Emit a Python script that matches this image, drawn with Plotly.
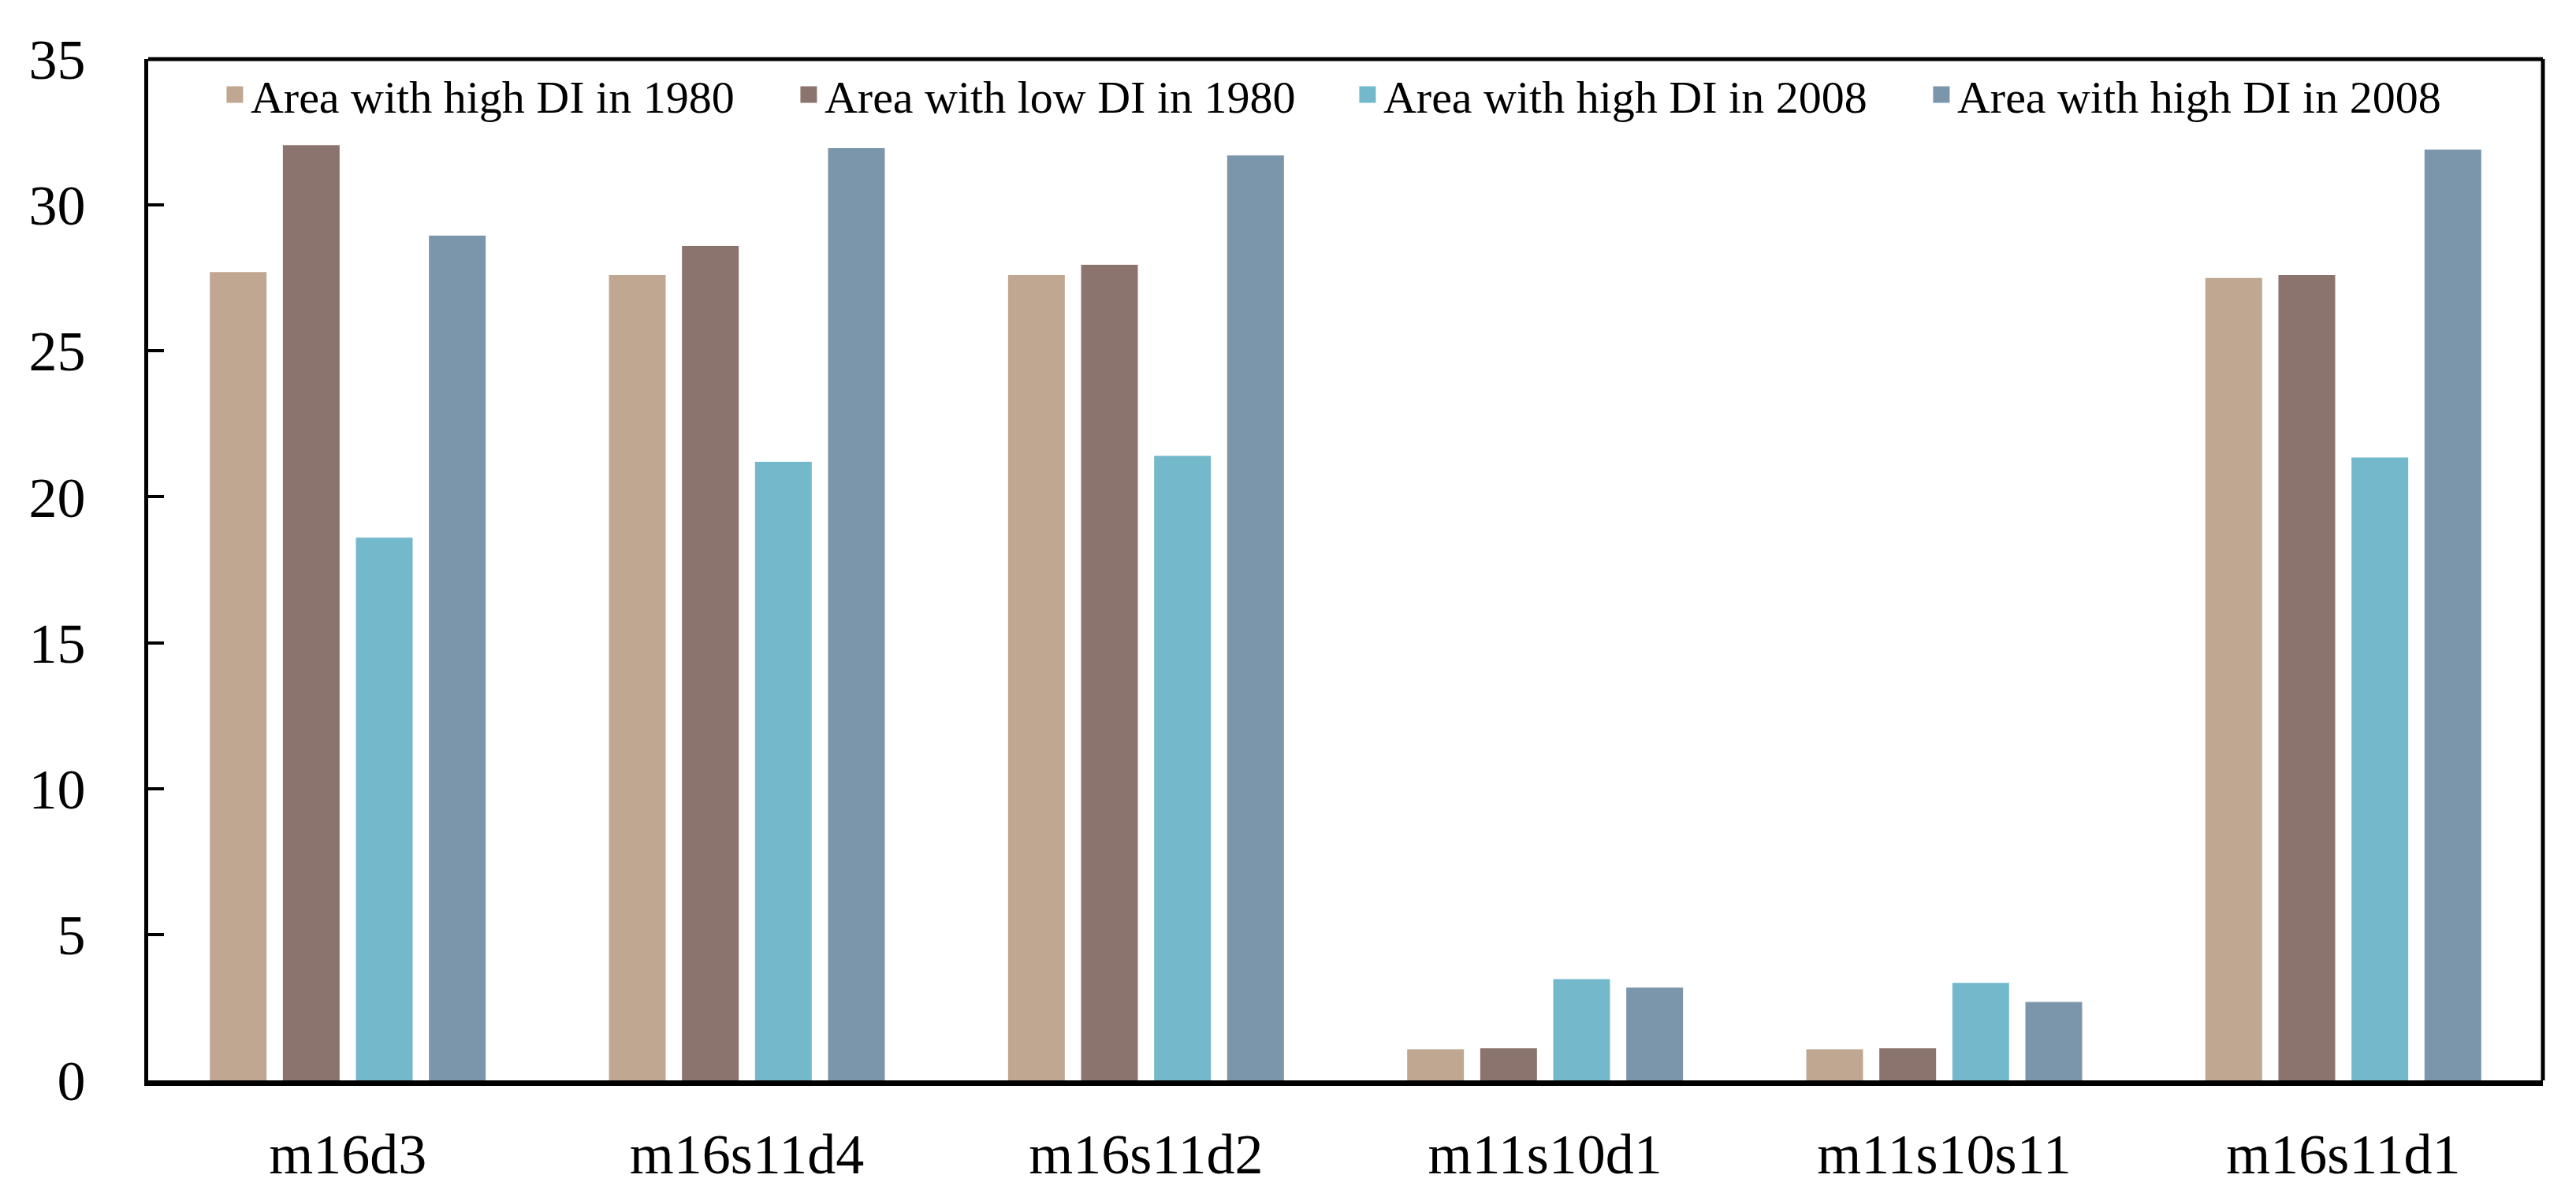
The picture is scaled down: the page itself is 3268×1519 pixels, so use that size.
import plotly.graph_objects as go

categories = ["m16d3", "m16s11d4", "m16s11d2", "m11s10d1", "m11s10s11", "m16s11d1"]
series_names = ["Area with high DI in 1980", "Area with low DI in 1980",
                "Area with high DI in 2008", "Area with high DI in 2008"]
high_1980 = [27.7, 27.6, 27.6, 1.07, 1.07, 27.5]
low_1980 = [32.05, 28.6, 27.95, 1.1, 1.1, 27.6]
high_2008_a = [18.6, 21.2, 21.4, 3.47, 3.34, 21.35]
high_2008_b = [28.95, 31.95, 31.7, 3.18, 2.69, 31.9]
y_ticks = [0, 5, 10, 15, 20, 25, 30, 35]

colors = ["#C0A792", "#8B746E", "#74B9CB", "#7B96AB"]
legend_widths = [683, 664, 683, 683]
series = [high_1980, low_1980, high_2008_a, high_2008_b]

FONT = "Liberation Serif"
fig = go.Figure()
for name, vals, col in zip(series_names, series, colors):
    fig.add_trace(go.Bar(x=categories, y=vals, name=name, marker=dict(color=col, line=dict(width=0)),
                         showlegend=False))
# legend entries (square swatches)
for name, col, lw in zip(series_names, colors, legend_widths):
    fig.add_trace(go.Scatter(x=[None], y=[None], mode="markers", name=name,
                             marker=dict(symbol="square", size=16, color=col,
                                         line=dict(color=col, width=5)),
                             legendwidth=lw, showlegend=True))

fig.update_layout(
    width=3268, height=1519,
    margin=dict(l=180, r=50, t=67, b=156),
    paper_bgcolor="white", plot_bgcolor="white",
    barmode="group", bargap=0.268, bargroupgap=0.223,
    font=dict(family=FONT, color="black", size=72),
    legend=dict(orientation="h", x=0.0296, xanchor="left", y=0.965, yanchor="middle",
                font=dict(family=FONT, size=58, color="black"),
                bgcolor="rgba(0,0,0,0)", borderwidth=0, itemwidth=30),
    showlegend=True,
)
fig.update_xaxes(showline=True, linecolor="black", linewidth=7, ticks="", showgrid=False,
                 tickfont=dict(family=FONT, size=72), ticklabelstandoff=25, zeroline=False)
fig.update_yaxes(range=[0, 35], tickvals=y_ticks, showline=True, linecolor="black", linewidth=5,
                 ticks="inside", ticklen=20, tickwidth=4, tickcolor="black",
                 showgrid=False, zeroline=False, tickfont=dict(family=FONT, size=72),
                 ticklabelstandoff=60)
fig.add_shape(type="line", xref="paper", yref="paper", x0=0, x1=1, y0=1, y1=1,
              line=dict(color="black", width=5))
fig.add_shape(type="line", xref="paper", yref="paper", x0=1, x1=1, y0=0, y1=1,
              line=dict(color="black", width=5))

fig.write_html("out.html")
